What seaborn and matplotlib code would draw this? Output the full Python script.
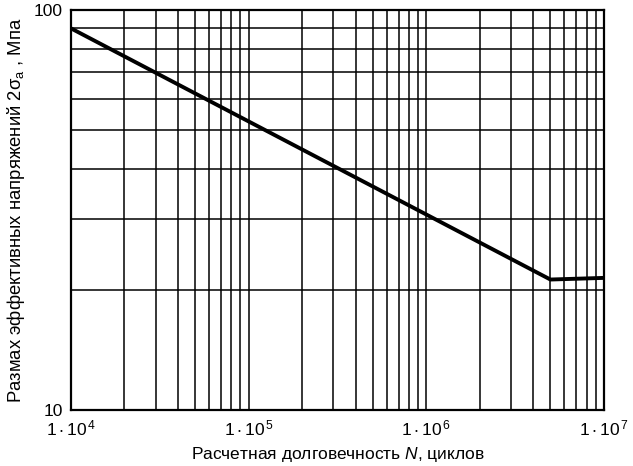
import numpy as np
import pandas as pd
import matplotlib
matplotlib.use("Agg")
import matplotlib.pyplot as plt
import seaborn as sns
from matplotlib.ticker import FixedLocator, LogLocator, NullFormatter

# Data
cycles = [1e4, 5e6, 1e7]
stress = [90.0, 21.2, 21.4]
x_ticks = [1e4, 1e5, 1e6, 1e7]
x_labels = [r"$1\cdot10^{\,4}$", r"$1\cdot10^{\,5}$", r"$1\cdot10^{\,6}$", r"$1\cdot10^{\,7}$"]
y_ticks = [10, 100]
y_labels = ["10", "100"]

sns.set_theme(style="white")
plt.rcParams["font.family"] = ["Liberation Sans", "DejaVu Sans"]
plt.rcParams["mathtext.fontset"] = "custom"
plt.rcParams["mathtext.rm"] = "Liberation Sans"
plt.rcParams["mathtext.it"] = "Liberation Sans:italic"
plt.rcParams["mathtext.default"] = "regular"

df = pd.DataFrame({"N": cycles, "sigma": stress})

fig = plt.figure(figsize=(6.33, 4.66), dpi=100)
ax = fig.add_axes([0.112, 0.12, 0.842, 0.8585])

sns.lineplot(data=df, x="N", y="sigma", ax=ax, color="black", linewidth=2.8)

ax.set_xscale("log")
ax.set_yscale("log")
ax.set_xlim(1e4, 1e7)
ax.set_ylim(10, 100)

ax.xaxis.set_major_locator(FixedLocator(x_ticks))
ax.set_xticklabels(x_labels)
ax.xaxis.set_minor_locator(LogLocator(base=10, subs=np.arange(2, 10)))
ax.xaxis.set_minor_formatter(NullFormatter())
ax.yaxis.set_major_locator(FixedLocator(y_ticks))
ax.set_yticklabels(y_labels)
ax.yaxis.set_minor_locator(LogLocator(base=10, subs=np.arange(2, 10)))
ax.yaxis.set_minor_formatter(NullFormatter())

ax.grid(True, which="both", color="black", linewidth=1.1)
ax.tick_params(which="both", length=0, labelsize=12.5, colors="black", pad=6)
for s in ax.spines.values():
    s.set_color("black")
    s.set_linewidth(1.6)

ax.set_xlabel(r"Расчетная долговечность $\mathit{N}$, циклов", fontsize=12.5, color="black", labelpad=5)
ax.set_ylabel(r"Размах эффективных напряжений 2$\sigma_a$ , Мпа", fontsize=13.3, color="black", labelpad=5)

fig.savefig("out.png", dpi=100)
